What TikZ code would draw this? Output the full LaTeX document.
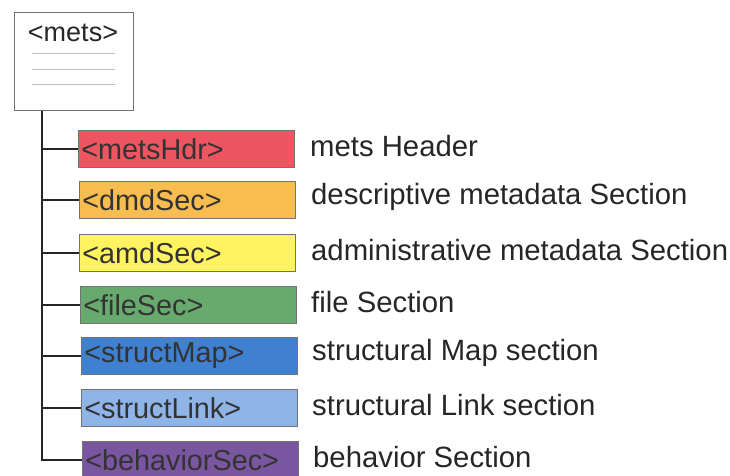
\documentclass[tikz,border=0pt]{standalone}
\usepackage{fontspec}
\setmainfont{Liberation Sans}
\definecolor{hdrred}{HTML}{EF5560}
\definecolor{dmdorange}{HTML}{F8BD50}
\definecolor{amdyellow}{HTML}{FFF460}
\definecolor{filegreen}{HTML}{68AA6E}
\definecolor{mapblue}{HTML}{3F80D0}
\definecolor{linkblue}{HTML}{8FB4E8}
\definecolor{behpurple}{HTML}{7A56A0}
\definecolor{inktext}{HTML}{262626}
\definecolor{boxtext}{HTML}{333333}
\tikzset{
  x=1pt, y=-1pt,
  boxfont/.style={font=\fontsize{28.8}{30}\selectfont},
  descfont/.style={font=\fontsize{29.3}{31}\selectfont},
  secbox/.style={rectangle, draw=black!55, line width=0.6pt, anchor=west,
    minimum width=216pt, minimum height=37pt, text width=210pt,
    inner xsep=3pt, inner ysep=0pt, align=left, text=boxtext, boxfont},
  desc/.style={anchor=west, inner sep=0pt, text=inktext, descfont},
  tree/.style={draw=black!85, line width=2.4pt},
  rule/.style={draw=black!25, line width=0.5pt}
}
\begin{document}
\begin{tikzpicture}
\useasboundingbox (0,0) rectangle (730,475);

% root element box
\node[rectangle, draw=black!55, line width=0.6pt, anchor=north west,
      minimum width=119pt, minimum height=98pt, inner sep=0pt] (mets) at (14,12) {};
\node[inner sep=0pt, text=inktext, font=\fontsize{27}{28}\selectfont] (metstag) at (73,33) {<mets>};
\draw[rule] (32,53) -- (115,53);
\draw[rule] (32,69) -- (115,69);
\draw[rule] (32,84) -- (115,84);

% child sections
\node[secbox, fill=hdrred]    (hdr)  at (78,149) {<metsHdr>};
\node[secbox, fill=dmdorange] (dmd)  at (79,200) {<dmdSec>};
\node[secbox, fill=amdyellow] (amd)  at (79,253) {<amdSec>};
\node[secbox, fill=filegreen] (file) at (80,305) {<fileSec>};
\node[secbox, fill=mapblue]   (map)  at (81,356) {<structMap>};
\node[secbox, fill=linkblue]  (link) at (81,408) {<structLink>};
\node[secbox, fill=behpurple] (beh)  at (82,460) {<behaviorSec>};

% descriptions
\node[desc] (dhdr)  at (310,146) {mets Header};
\node[desc] (ddmd)  at (311,197) {descriptive metadata Section};
\node[desc] (damd)  at (311,250) {administrative metadata Section};
\node[desc] (dfile) at (311,302) {file Section};
\node[desc] (dmap)  at (312,353) {structural Map section};
\node[desc] (dlink) at (312,405) {structural Link section};
\node[desc] (dbeh)  at (313,457) {behavior Section};

% tree connectors
\coordinate (t) at (42,0);
\draw[tree] (mets.south -| t) |- (beh.west);
\foreach \n in {hdr,dmd,amd,file,map,link}
  \draw[tree] (t |- \n.west) -- (\n.west);
\end{tikzpicture}
\end{document}
